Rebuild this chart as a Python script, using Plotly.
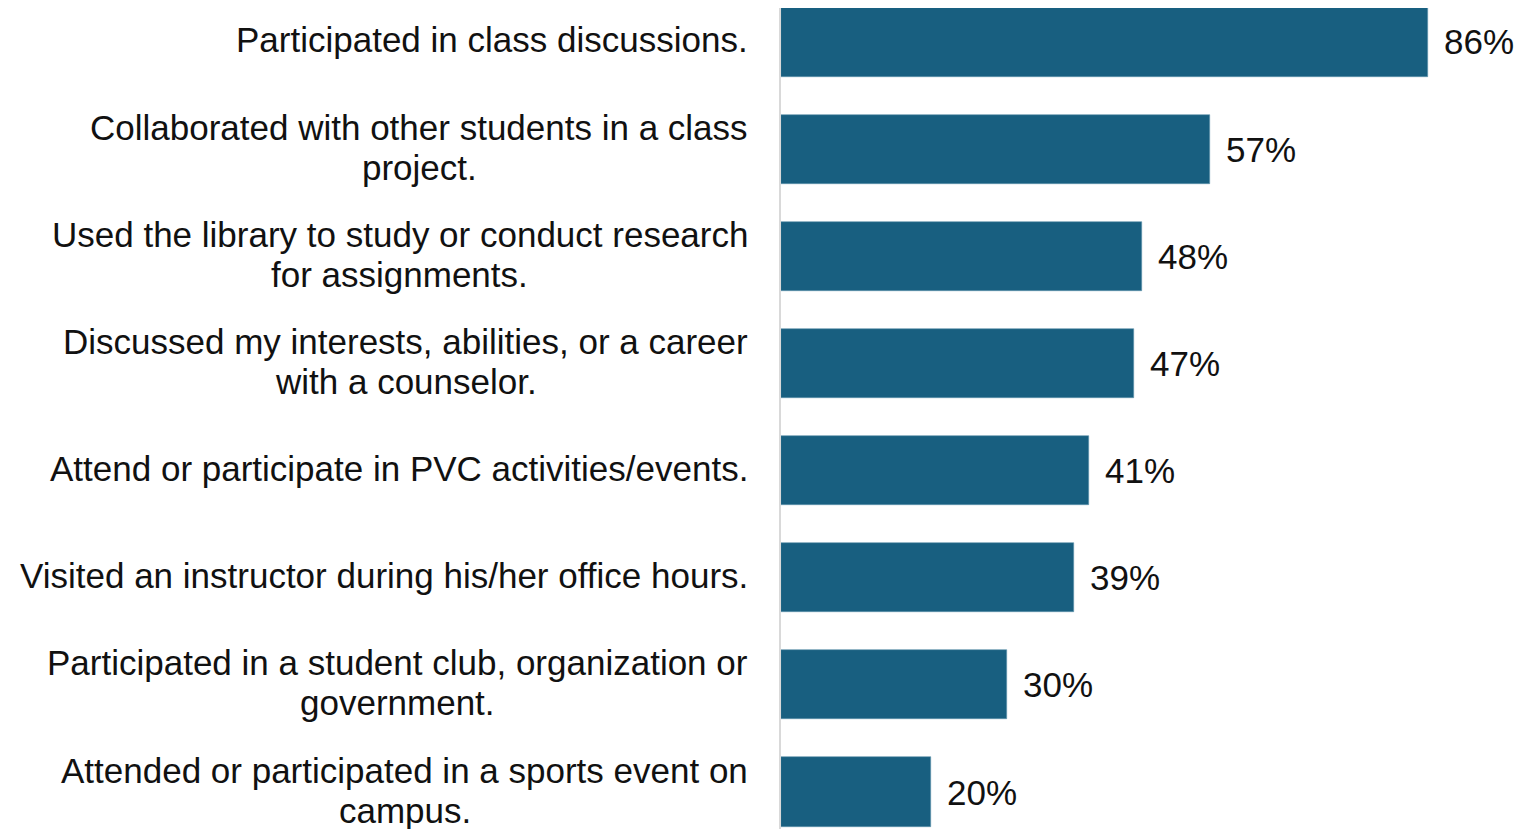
import plotly.graph_objects as go

# Each category label as its lines (as wrapped in the chart)
categories = [
    ["Participated in class discussions."],
    ["Collaborated with other students in a class", "project."],
    ["Used the library to study or conduct research", "for assignments."],
    ["Discussed my interests, abilities, or a career", "with a counselor."],
    ["Attend or participate in PVC activities/events."],
    ["Visited an instructor during his/her office hours."],
    ["Participated in a student club, organization or", "government."],
    ["Attended or participated in a sports event on", "campus."],
]
values = [86, 57, 48, 47, 41, 39, 30, 20]
value_labels = ["86%", "57%", "48%", "47%", "41%", "39%", "30%", "20%"]

FONT = "Liberation Sans, Arial, sans-serif"
BAR_COLOR = "#185f80"
TEXT_COLOR = "#111111"
FS = 35
LINE_GAP = 20  # half distance between wrapped lines, px
LABEL_LIFT = 2  # category labels sit slightly above bar centre

# Arial / Liberation Sans advance widths (per 1000 em) used for centring wrapped lines
W = {" ": 278, ",": 278, ".": 278, "/": 278,
     "a": 556, "b": 556, "c": 500, "d": 556, "e": 556, "f": 278, "g": 556,
     "h": 556, "i": 222, "j": 222, "k": 500, "l": 222, "m": 833, "n": 556,
     "o": 556, "p": 556, "q": 556, "r": 333, "s": 500, "t": 278, "u": 556,
     "v": 500, "w": 722, "x": 500, "y": 500, "z": 500,
     "A": 667, "C": 722, "D": 722, "P": 667, "U": 722, "V": 667}


def text_width(s):
    return sum(W.get(ch, 556) for ch in s) * FS / 1000.0


ids = [f"c{i}" for i in range(len(categories))]

fig = go.Figure()
fig.add_trace(go.Bar(
    x=values,
    y=ids,
    orientation="h",
    width=0.646,
    marker=dict(color=BAR_COLOR, line=dict(color="#5f93ad", width=0.6)),
    hoverinfo="skip",
))

LABEL_RIGHT = -31  # px from plot left edge
annotations = []
for cid, lines in zip(ids, categories):
    font = dict(family=FONT, size=FS, color=TEXT_COLOR)
    if len(lines) == 1:
        annotations.append(dict(
            x=0, xref="paper", y=cid, yref="y", text=lines[0], showarrow=False,
            xanchor="right", yanchor="middle", xshift=LABEL_RIGHT,
            yshift=LABEL_LIFT, font=font))
    else:
        w1 = text_width(lines[0])
        annotations.append(dict(
            x=0, xref="paper", y=cid, yref="y", text=lines[0], showarrow=False,
            xanchor="right", yanchor="middle", xshift=LABEL_RIGHT,
            yshift=LINE_GAP + LABEL_LIFT, font=font))
        annotations.append(dict(
            x=0, xref="paper", y=cid, yref="y", text=lines[1], showarrow=False,
            xanchor="center", yanchor="middle",
            xshift=LABEL_RIGHT - 2 - w1 / 2.0, yshift=-LINE_GAP + LABEL_LIFT,
            font=font))

for cid, v, t in zip(ids, values, value_labels):
    annotations.append(dict(
        x=v, xref="x", y=cid, yref="y",
        text=t, showarrow=False, xanchor="left", yanchor="middle",
        xshift=14,
        font=dict(family=FONT, size=FS, color=TEXT_COLOR),
    ))

fig.update_layout(
    width=1508, height=821,
    margin=dict(l=773, r=0, t=0, b=0),
    paper_bgcolor="white", plot_bgcolor="white",
    showlegend=False,
    bargap=0,
    annotations=annotations,
    xaxis=dict(range=[0, 97.74], showgrid=False, zeroline=False,
               showticklabels=False, showline=False, ticks=""),
    yaxis=dict(range=[7.345, -0.317], showgrid=False, zeroline=False,
               showticklabels=False, showline=True, linecolor="#d9d9d9",
               linewidth=1.5, ticks=""),
)

fig.write_html("out.html")
